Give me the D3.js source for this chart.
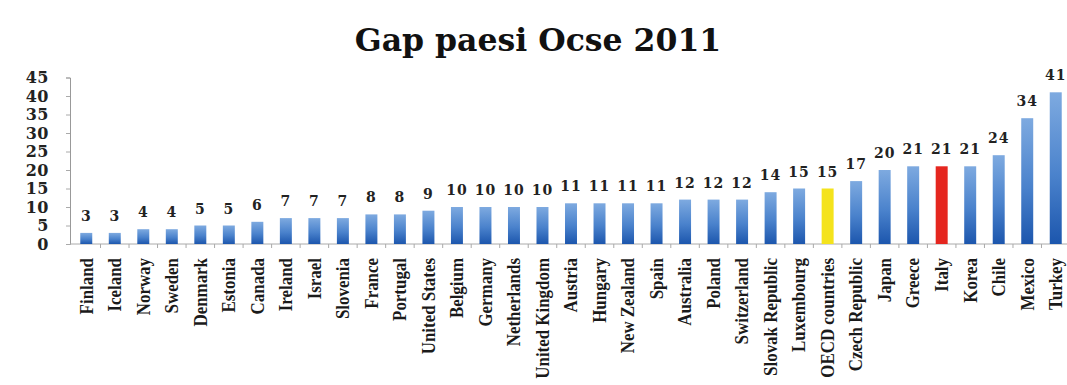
<!DOCTYPE html>
<html>
<head>
<meta charset="utf-8">
<script src="https://cdn.jsdelivr.net/npm/d3@7"></script>
<style>
  html, body { margin: 0; padding: 0; background: #fff; }
  svg { display: block; }
</style>
</head>
<body>
<svg id="chart" width="1067" height="385"></svg>
<script>
// Gender gap by OECD country, 2011
const countries = [
  "Finland", "Iceland", "Norway", "Sweden", "Denmark", "Estonia", "Canada",
  "Ireland", "Israel", "Slovenia", "France", "Portugal", "United States",
  "Belgium", "Germany", "Netherlands", "United Kingdom", "Austria", "Hungary",
  "New Zealand", "Spain", "Australia", "Poland", "Switzerland",
  "Slovak Republic", "Luxembourg", "OECD countries", "Czech Republic",
  "Japan", "Greece", "Italy", "Korea", "Chile", "Mexico", "Turkey"
];
const gapValues = [
  3, 3, 4, 4, 5, 5, 6, 7, 7, 7, 8, 8, 9, 10, 10, 10, 10, 11, 11, 11, 11,
  12, 12, 12, 14, 15, 15, 17, 20, 21, 21, 21, 24, 34, 41
];
const yTicks = [0, 5, 10, 15, 20, 25, 30, 35, 40, 45];
const highlight = { "OECD countries": "#f4e31c", "Italy": "#e5261f" };

const svg = d3.select("#chart");
const margin = { left: 72, right: -3, top: 78, bottom: 141 };
const W = 1067, H = 385;

const x = d3.scaleBand()
  .domain(countries)
  .range([margin.left, W - margin.right])
  .paddingInner(0.58)
  .paddingOuter(0.29);

const y = d3.scaleLinear()
  .domain([0, 45])
  .range([H - margin.bottom, H - margin.bottom - 45 * 3.7]);

const serif = "'DejaVu Serif', serif";

// bar gradient: pale blue at the top, deep blue at the base
const defs = svg.append("defs");
const grad = defs.append("linearGradient")
  .attr("id", "barBlue")
  .attr("x1", 0).attr("y1", 0).attr("x2", 0).attr("y2", 1);
grad.append("stop").attr("offset", "0%").attr("stop-color", "#7eaae0");
grad.append("stop").attr("offset", "55%").attr("stop-color", "#4a82cc");
grad.append("stop").attr("offset", "100%").attr("stop-color", "#1c56ad");

// title
svg.append("text")
  .attr("x", 538).attr("y", 51)
  .attr("text-anchor", "middle")
  .style("font-family", serif)
  .style("font-weight", "bold")
  .style("font-size", "31.5px")
  .style("fill", "#111")
  .text("Gap paesi Ocse 2011");

// y axis
const yAxis = svg.append("g")
  .attr("transform", `translate(${margin.left - 2},0)`)
  .call(d3.axisLeft(y).tickValues(yTicks).tickSize(4).tickPadding(17));
yAxis.select(".domain").attr("stroke", "#999");
yAxis.selectAll(".tick line").attr("stroke", "#aaa");
yAxis.selectAll(".tick text")
  .style("font-family", serif)
  .style("font-weight", "bold")
  .style("font-size", "16px")
  .style("letter-spacing", "0.5px")
  .style("fill", "#222");

// x axis line with ticks at category boundaries
const x0 = y(0);
const xAxis = svg.append("g");
xAxis.append("line")
  .attr("x1", margin.left - 2).attr("x2", W)
  .attr("y1", x0).attr("y2", x0)
  .attr("stroke", "#aaa");
const step = x.step();
xAxis.selectAll("line.tk")
  .data(countries)
  .join("line")
  .attr("class", "tk")
  .attr("x1", d => x(d) + x.bandwidth() / 2 + step / 2)
  .attr("x2", d => x(d) + x.bandwidth() / 2 + step / 2)
  .attr("y1", x0).attr("y2", x0 + 4)
  .attr("stroke", "#aaa");

// bars
svg.append("g")
  .selectAll("rect")
  .data(countries)
  .join("rect")
  .attr("x", d => x(d))
  .attr("width", x.bandwidth())
  .attr("y", (d, i) => y(gapValues[i]))
  .attr("height", (d, i) => y(0) - y(gapValues[i]))
  .attr("fill", d => highlight[d] || "url(#barBlue)");

// value labels
svg.append("g")
  .selectAll("text")
  .data(countries)
  .join("text")
  .attr("x", d => x(d) + x.bandwidth() / 2)
  .attr("y", (d, i) => y(gapValues[i]) - 12)
  .attr("text-anchor", "middle")
  .style("font-family", serif)
  .style("font-weight", "bold")
  .style("font-size", "14px")
  .style("letter-spacing", "1px")
  .style("fill", "#222")
  .text((d, i) => gapValues[i]);

// rotated category labels, slightly condensed along the reading direction
svg.append("g")
  .selectAll("text")
  .data(countries)
  .join("text")
  .attr("transform", d => `translate(${x(d) + x.bandwidth() / 2},${x0 + 14}) rotate(-90) scale(0.94,1)`)
  .attr("dy", "0.35em")
  .attr("text-anchor", "end")
  .style("font-family", "'Liberation Serif', serif")
  .style("font-weight", "bold")
  .style("font-size", "18px")
  .style("fill", "#1a1a1a")
  .text(d => d);
</script>
</body>
</html>
